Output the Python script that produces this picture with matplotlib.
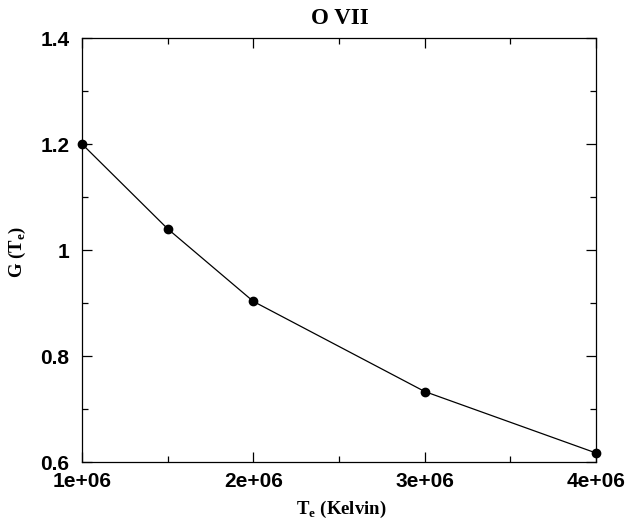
import matplotlib
matplotlib.use("Agg")
import matplotlib.pyplot as plt
from matplotlib.ticker import MultipleLocator, FixedLocator

temps = [1.0e6, 1.5e6, 2.0e6, 3.0e6, 4.0e6]
g_vals = [1.20, 1.04, 0.903, 0.733, 0.617]
x_ticks = [1e6, 2e6, 3e6, 4e6]
x_tick_labels = ["1e+06", "2e+06", "3e+06", "4e+06"]
y_ticks = [0.6, 0.8, 1.0, 1.2, 1.4]
y_tick_labels = ["0.6", "0.8", "1", "1.2", "1.4"]

W, H = 626, 527
fig = plt.figure(figsize=(W/100, H/100), dpi=100)
ax = fig.add_axes([82/W, 1-462/H, (596-82)/W, (462-38)/H])

ax.plot(temps, g_vals, color="black", linewidth=0.9, marker="o",
        markersize=6, clip_on=False, zorder=3)

ax.set_xlim(1e6, 4e6)
ax.set_ylim(0.6, 1.4)
ax.xaxis.set_major_locator(FixedLocator(x_ticks))
ax.set_xticklabels(x_tick_labels)
ax.xaxis.set_minor_locator(MultipleLocator(0.5e6))
ax.yaxis.set_major_locator(FixedLocator(y_ticks))
ax.set_yticklabels(y_tick_labels)
ax.yaxis.set_minor_locator(MultipleLocator(0.1))

ax.tick_params(which="both", direction="in", top=True, right=True,
               width=0.9, colors="black")
ax.tick_params(which="major", length=7, labelsize=15)
ax.tick_params(which="minor", length=4)
ax.tick_params(axis="x", which="major", pad=7)
ax.tick_params(axis="y", which="major", pad=9)
for lab in ax.get_xticklabels() + ax.get_yticklabels():
    lab.set_family(["Liberation Sans", "DejaVu Sans"])
    lab.set_fontweight("bold")
for s in ax.spines.values():
    s.set_linewidth(0.9)

serif = ["Liberation Serif", "DejaVu Serif"]
fig.text(340/W, 1-19/H, "O VII", fontsize=16.5, fontweight="bold",
         family=serif, ha="center", va="center")
fig.text(341/W, 1-509/H, r"T$_\mathregular{e}$ (Kelvin)", fontsize=13.5,
         fontweight="bold", family=serif, ha="center", va="center")
fig.text(17/W, 1-252/H, r"G (T$_\mathregular{e}$)", fontsize=13.5,
         fontweight="bold", family=serif, ha="center", va="center",
         rotation=90)

fig.savefig("out.png", dpi=100)
